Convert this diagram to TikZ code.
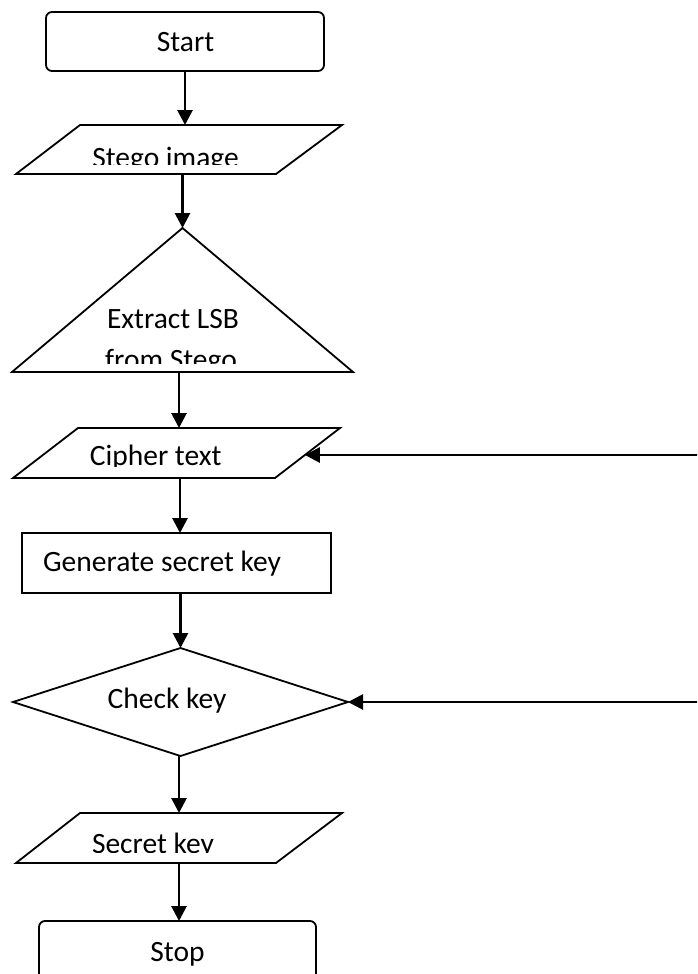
\documentclass[tikz,border=0pt]{standalone}
\usepackage{fontspec}
\setmainfont{Carlito}
\usetikzlibrary{arrows.meta,calc}

\begin{document}
\begin{tikzpicture}[x=1pt,y=-1pt,
  frame/.style={inner sep=0pt, outer sep=0pt, minimum width=#1},
  outline/.style={draw=black, line width=1.8pt, line join=miter},
  flow/.style={draw=black, line width=2.8pt, -{Triangle[length=15pt,width=15pt]}},
  txt/.style={inner sep=0pt, outer sep=0pt, anchor=base,
              font=\fontsize{29.5}{35}\selectfont},
]
\useasboundingbox (0,0) rectangle (697,974);
\clip (0,0) rectangle (697,974);

% ---- process frames (named nodes, outlines drawn from their anchors) ----
\node[frame=278, minimum height=59, outline, rounded corners=6pt] (start) at (185,41.5) {};
\node[frame=326, minimum height=49] (stego)    at (179,149.5) {};
\node[frame=341, minimum height=144] (lsb)     at (182.5,300) {};
\node[frame=327, minimum height=50] (cipher)   at (176.5,453) {};
\node[frame=309, minimum height=60, outline] (generate) at (176.5,563) {};
\node[frame=335, minimum height=108] (check)   at (180.5,702) {};
\node[frame=326, minimum height=50] (secret)   at (179,838) {};
\node[frame=277, minimum height=59, outline, rounded corners=6pt] (stop) at (177.5,950.5) {};

% input/output parallelograms
\draw[outline] (stego.south west) -- ($(stego.north west)+(64,0)$)
  -- (stego.north east) -- ($(stego.south east)+(-66,0)$) -- cycle;
\coordinate (cipher-br) at ($(cipher.south east)+(-65,0)$);
\draw[outline] (cipher.south west) -- ($(cipher.north west)+(65,0)$)
  -- (cipher.north east) -- (cipher-br) -- cycle;
\draw[outline] (secret.south west) -- ($(secret.north west)+(64,0)$)
  -- (secret.north east) -- ($(secret.south east)+(-66,0)$) -- cycle;

% extraction triangle and decision diamond
\draw[outline] (lsb.north) -- (lsb.south east) -- (lsb.south west) -- cycle;
\draw[outline] (check.north) -- (check.east) -- (check.south) -- (check.west) -- cycle;

% ---- labels ----
\node[txt] (start-t) at (185.5,51.5) {Start};
\begin{scope}
  \clip (0,0) rectangle (697,164.5);
  \node[txt] (stego-t) at (165.5,167) {Stego image};
\end{scope}
\begin{scope}
  \clip (0,0) rectangle (697,363.3);
  \node[txt] (lsb-t1) at (173,328.3) {Extract LSB};
  \node[txt] (lsb-t2) at (171,369.5) {from Stego};
\end{scope}
\begin{scope}
  \clip (0,0) rectangle (697,466.7);
  \node[txt] (cipher-t) at (155.7,465.5) {Cipher text};
\end{scope}
\node[txt] (generate-t) at (162,571.7) {Generate secret key};
\node[txt] (check-t) at (167,708) {Check key};
\begin{scope}
  \clip (0,0) rectangle (697,852.7);
  \node[txt] (secret-t) at (153,853) {Secret key};
\end{scope}
\node[txt] (stop-t) at (177.5,961) {Stop};

% ---- connectors ----
\draw[flow] (start.south) -- (start.south |- stego.north);
\draw[flow] (lsb.north |- stego.south) -- (lsb.north);
\draw[flow] ([xshift=-3.5pt]lsb.south) -- ([xshift=-3.5pt]lsb.south |- cipher.north);
\draw[flow] ([xshift=3.5pt]cipher.south) -- ([xshift=3.5pt]cipher.south |- generate.north);
\draw[flow] (check.north |- generate.south) -- (check.north);
\draw[flow] (secret.north |- check.south) -- (secret.north);
\draw[flow] (secret.south) -- (secret.south |- stop.north);

% feedback lines entering from the right
\coordinate (cipher-in) at ($(cipher.north east)!0.54!(cipher-br)$);
\coordinate (feed1) at (700,455);
\coordinate (feed2) at (700,702);
\draw[flow] (cipher-in -| feed1) -- (cipher-in);
\draw[flow] (check.east -| feed2) -- (check.east);
\end{tikzpicture}
\end{document}
